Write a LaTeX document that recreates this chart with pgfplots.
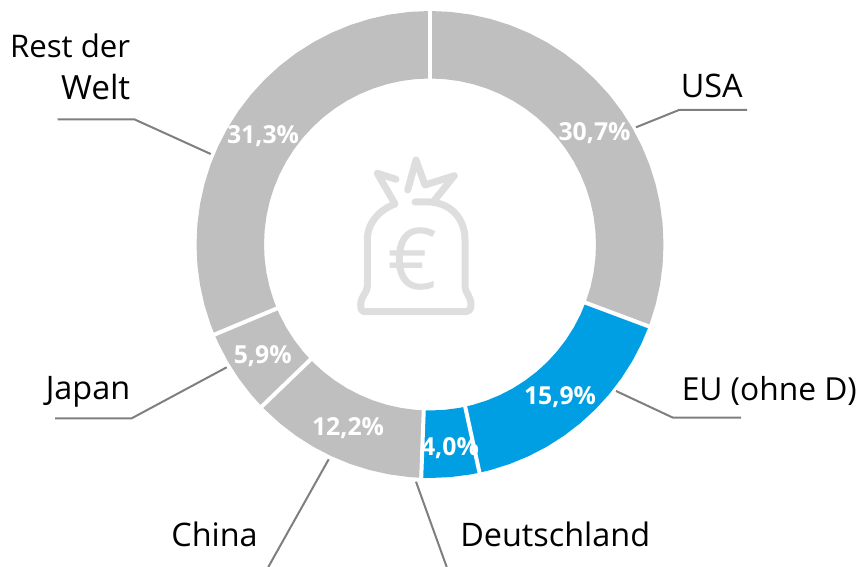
\documentclass[border=0pt]{standalone}
\usepackage{pgfplots}
\pgfplotsset{compat=1.18}
\usepackage{fontspec}
\setmainfont{Open Sans}
\definecolor{ringgray}{HTML}{BFBFBF}
\definecolor{ringblue}{HTML}{009FE3}
\definecolor{leader}{HTML}{7F7F7F}
\definecolor{bag}{HTML}{DEDEDE}
\newcommand{\lab}{\fontsize{24.3}{28}\selectfont}
\newcommand{\pct}{\fontsize{18.6}{22}\selectfont\bfseries}
\tikzset{
  lbl/.style={inner sep=0pt, text=black, font=\lab},
  val/.style={inner sep=0pt, text=white, font=\pct, anchor=base},
}
\pgfplotsset{
  slice/.style={draw=none, mark=none, data cs=polar},
  sep/.style={draw=white, line width=3pt, mark=none, data cs=polar},
  lead/.style={draw=leader, line width=1.5pt, mark=none},
}
\begin{document}
\begin{tikzpicture}
\useasboundingbox (0,0) rectangle (647.25pt,425.25pt);
\begin{axis}[
  scale only axis, width=647.25pt, height=425.25pt,
  xmin=-430, xmax=433, ymin=-322.5, ymax=244.5,
  hide axis, clip=true,
]
% USA 30.7
\addplot[slice, fill=ringgray] coordinates {(90,233.5)(85,233.5)(80,233.5)(75,233.5)(70,233.5)(65,233.5)(60,233.5)(55,233.5)(50,233.5)(45,233.5)(40,233.5)(35,233.5)(30,233.5)(25,233.5)(20,233.5)(15,233.5)(10,233.5)(5,233.5)(0,233.5)(-5,233.5)(-10,233.5)(-15,233.5)(-20,233.5)(-20.52,233.5)
(-20.52,166)(-20,166)(-15,166)(-10,166)(-5,166)(0,166)(5,166)(10,166)(15,166)(20,166)(25,166)(30,166)(35,166)(40,166)(45,166)(50,166)(55,166)(60,166)(65,166)(70,166)(75,166)(80,166)(85,166)(90,166)} --cycle;
% EU (ohne D) 15.9
\addplot[slice, fill=ringblue] coordinates {(-20.52,233.5)(-25,233.5)(-30,233.5)(-35,233.5)(-40,233.5)(-45,233.5)(-50,233.5)(-55,233.5)(-60,233.5)(-65,233.5)(-70,233.5)(-75,233.5)(-77.76,233.5)
(-77.76,166)(-75,166)(-70,166)(-65,166)(-60,166)(-55,166)(-50,166)(-45,166)(-40,166)(-35,166)(-30,166)(-25,166)(-20.52,166)} --cycle;
% Deutschland 4.0
\addplot[slice, fill=ringblue] coordinates {(-77.76,233.5)(-80,233.5)(-85,233.5)(-90,233.5)(-92.16,233.5)
(-92.16,166)(-90,166)(-85,166)(-80,166)(-77.76,166)} --cycle;
% China 12.2
\addplot[slice, fill=ringgray] coordinates {(-92.16,233.5)(-95,233.5)(-100,233.5)(-105,233.5)(-110,233.5)(-115,233.5)(-120,233.5)(-125,233.5)(-130,233.5)(-135,233.5)(-136.08,233.5)
(-136.08,166)(-135,166)(-130,166)(-125,166)(-120,166)(-115,166)(-110,166)(-105,166)(-100,166)(-95,166)(-92.16,166)} --cycle;
% Japan 5.9
\addplot[slice, fill=ringgray] coordinates {(-136.08,233.5)(-140,233.5)(-145,233.5)(-150,233.5)(-155,233.5)(-157.32,233.5)
(-157.32,166)(-155,166)(-150,166)(-145,166)(-140,166)(-136.08,166)} --cycle;
% Rest der Welt 31.3
\addplot[slice, fill=ringgray] coordinates {(-157.32,233.5)(-160,233.5)(-165,233.5)(-170,233.5)(-175,233.5)(-180,233.5)(-185,233.5)(-190,233.5)(-195,233.5)(-200,233.5)(-205,233.5)(-210,233.5)(-215,233.5)(-220,233.5)(-225,233.5)(-230,233.5)(-235,233.5)(-240,233.5)(-245,233.5)(-250,233.5)(-255,233.5)(-260,233.5)(-265,233.5)(-270,233.5)
(-270,166)(-265,166)(-260,166)(-255,166)(-250,166)(-245,166)(-240,166)(-235,166)(-230,166)(-225,166)(-220,166)(-215,166)(-210,166)(-205,166)(-200,166)(-195,166)(-190,166)(-185,166)(-180,166)(-175,166)(-170,166)(-165,166)(-160,166)(-157.32,166)} --cycle;
% separators
\addplot[sep] coordinates {(90,160)(90,240)};
\addplot[sep] coordinates {(-20.52,160)(-20.52,240)};
\addplot[sep] coordinates {(-77.76,160)(-77.76,240)};
\addplot[sep] coordinates {(-92.16,160)(-92.16,240)};
\addplot[sep] coordinates {(-136.08,160)(-136.08,240)};
\addplot[sep] coordinates {(-157.32,160)(-157.32,240)};
% leader lines
\addplot[lead] coordinates {(206,117.2)(249,134.5)(317,134.5)};
\addplot[lead] coordinates {(186,-146.5)(243,-173.2)(311,-173.2)};
\addplot[lead] coordinates {(-14,-237.2)(16.7,-322.5)};
\addplot[lead] coordinates {(-101.3,-214.8)(-161.7,-322.5)};
\addplot[lead] coordinates {(-203.3,-122.8)(-298.3,-173.8)(-375,-173.8)};
\addplot[lead] coordinates {(-219.3,90.5)(-295.7,125.2)(-372.3,125.2)};
% money bag
\draw[bag, line width=5.25pt, line cap=round, line join=round]
  (-15,42.5) -- (0,42.5) .. controls (22,41) and (35,25) .. (35,4.5) -- (35,-42.2)
  .. controls (35,-48) and (41,-52) .. (41,-60) .. controls (41,-65) and (39,-67.2) .. (36,-67.2)
  -- (-66,-67.2) .. controls (-68,-67.2) and (-69.3,-65) .. (-69.3,-60)
  .. controls (-69.3,-52) and (-62.7,-48) .. (-62.7,-42.2) -- (-62.7,4.5)
  .. controls (-62.7,22) and (-50,35) .. (-35,40.5) -- (-52.7,71.2) -- (-34,65.2);
\draw[bag, line width=5.25pt, line cap=round, line join=round]
  (-22.3,54.5) -- (-14,84.5) -- (-5,59.5) -- (24.3,68.8) -- (3.3,42.8);
\node[text=bag, inner sep=0pt, anchor=center, font=\fontsize{64}{66}\selectfont] at (-17.5,-15) {€};
% category labels
\node[lbl, anchor=base west] at (250.5,146.8) {USA};
\node[lbl, anchor=base west, font=\fontsize{23.8}{28}\selectfont] at (251.5,-156.2) {EU (ohne D)};
\node[lbl, anchor=base west] at (30,-301.5) {Deutschland};
\node[lbl, anchor=base east] at (-172,-301.5) {China};
\node[lbl, anchor=base east] at (-299.5,-155.5) {Japan};
\node[lbl, anchor=base east, font=\fontsize{23.4}{28}\selectfont] at (-299.5,186.8) {Rest der};
\node[lbl, anchor=base east, font=\fontsize{25}{28}\selectfont] at (-299.5,145.2) {Welt};
% shares
\node[val] at (164.5,103.8) {30,7\%};
\node[val] at (-167,100.5) {31,3\%};
\node[val] at (130,-160.5) {15,9\%};
\node[val] at (20,-211.5) {4,0\%};
\node[val] at (-82,-191.5) {12,2\%};
\node[val] at (-167.3,-119.5) {5,9\%};
\end{axis}
\end{tikzpicture}
\end{document}
